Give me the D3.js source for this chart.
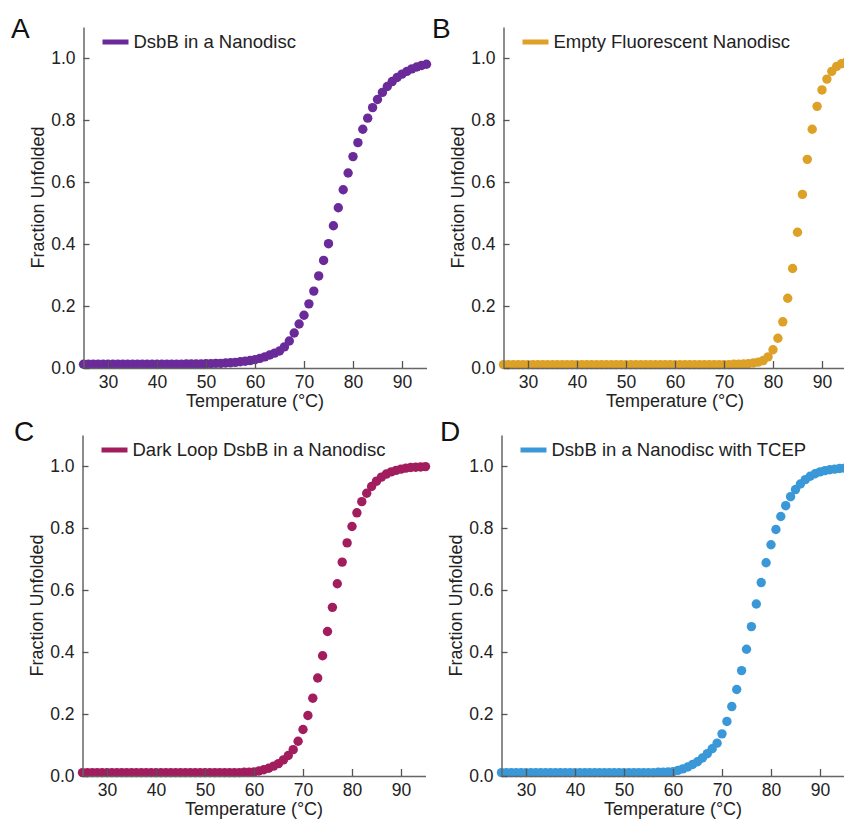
<!DOCTYPE html>
<html>
<head>
<meta charset="utf-8">
<script src="https://cdn.jsdelivr.net/npm/d3@7"></script>
<style>
  body { margin: 0; background: #fff; }
  text { font-family: "Liberation Sans", Arial, sans-serif; fill: #222; }
</style>
</head>
<body>
<div id="viz"></div>
<script>
// Temperatures (°C), one reading per degree
var temperaturas = [25,26,27,28,29,30,31,32,33,34,35,36,37,38,39,40,41,42,43,44,45,46,47,48,49,50,
  51,52,53,54,55,56,57,58,59,60,61,62,63,64,65,66,67,68,69,70,71,72,73,74,75,
  76,77,78,79,80,81,82,83,84,85,86,87,88,89,90,91,92,93,94,95];

// Fraction unfolded
var dsbNanodisc = [0.012,0.012,0.012,0.012,0.012,0.012,0.012,0.012,0.012,0.012,0.012,0.012,0.012,0.012,0.012,0.012,
  0.012,0.012,0.012,0.012,0.012,0.013,0.013,0.013,0.013,0.014,
  0.014,0.015,0.015,0.016,0.017,0.018,0.020,0.022,0.024,0.027,0.031,0.036,0.042,0.048,0.055,0.068,0.087,0.113,0.142,0.170,
  0.207,0.248,0.297,0.347,0.401,0.459,0.517,0.575,0.629,0.682,0.727,0.770,0.806,0.840,0.866,
  0.889,0.908,0.924,0.937,0.948,0.957,0.965,0.971,0.976,0.980];

var nanodiscVacio = [0.011,0.011,0.011,0.011,0.011,0.011,0.011,0.011,0.011,0.011,0.011,0.011,0.011,0.011,0.011,0.011,
  0.011,0.011,0.011,0.011,0.011,0.011,0.011,0.011,0.011,0.011,
  0.011,0.011,0.011,0.011,0.011,0.011,0.011,0.011,0.011,0.011,0.011,0.011,0.011,0.011,0.011,0.011,0.011,0.011,0.011,0.011,
  0.011,0.012,0.012,0.013,0.014,0.016,0.019,0.024,0.036,0.059,0.096,0.149,0.225,0.321,0.438,
  0.560,0.673,0.770,0.844,0.897,0.932,0.957,0.973,0.982,0.988];

var darkLoop = [0.011,0.011,0.011,0.011,0.011,0.011,0.011,0.011,0.011,0.011,0.011,0.011,0.011,0.011,0.011,0.011,
  0.011,0.011,0.011,0.011,0.011,0.011,0.011,0.011,0.011,0.011,
  0.011,0.011,0.011,0.011,0.011,0.011,0.011,0.012,0.012,0.013,0.016,0.020,0.025,0.032,0.040,0.052,0.066,0.085,0.112,0.150,
  0.195,0.251,0.316,0.388,0.466,0.544,0.620,0.690,0.752,0.805,0.849,0.885,0.912,0.934,0.951,
  0.964,0.974,0.981,0.986,0.990,0.993,0.995,0.996,0.997,0.998];

var dsbTcep = [0.011,0.011,0.011,0.011,0.011,0.011,0.011,0.011,0.011,0.011,0.011,0.011,0.011,0.011,0.011,0.011,
  0.011,0.011,0.011,0.011,0.011,0.011,0.011,0.011,0.011,0.011,
  0.011,0.011,0.011,0.011,0.011,0.011,0.012,0.012,0.013,0.014,0.018,0.023,0.029,0.037,0.046,0.058,0.072,0.088,0.106,0.136,
  0.176,0.224,0.279,0.340,0.409,0.482,0.555,0.624,0.688,0.746,0.795,0.837,0.872,0.901,0.924,
  0.942,0.956,0.967,0.975,0.981,0.985,0.988,0.990,0.992,0.993];

var series = [dsbNanodisc, nanodiscVacio, darkLoop, dsbTcep];
var letras = ['A', 'B', 'C', 'D'];
var leyendas = ['DsbB in a Nanodisc', 'Empty Fluorescent Nanodisc',
  'Dark Loop DsbB in a Nanodisc', 'DsbB in a Nanodisc with TCEP'];
var colores = ['#6a2a9a', '#dca126', '#a21d5e', '#3a98d8'];

var ticksX = [30, 40, 50, 60, 70, 80, 90];
var ticksY = [0, 0.2, 0.4, 0.6, 0.8, 1.0];
var tituloX = 'Temperature (°C)';
var tituloY = 'Fraction Unfolded';

/*
 * Layout
 */
var width = 844, height = 819;
var anchoPlot = 343, altoPlot = 341;
var origenes = [{x: 83.5, y: 27}, {x: 503.5, y: 27}, {x: 82.5, y: 435}, {x: 501.5, y: 435}];
var posLetras = [{x: 11, y: 38}, {x: 432, y: 38}, {x: 14, y: 441}, {x: 440, y: 441}];

var svg = d3.select('#viz')
  .append('svg')
  .attr('width', width)
  .attr('height', height);

var x = d3.scaleLinear().domain([25, 95]).range([0, anchoPlot]);
var y = d3.scaleLinear().domain([0, 1.1]).range([altoPlot, 0]);

function dibujarPanel(i) {
  var o = origenes[i];
  var g = svg.append('g').attr('transform', 'translate(' + o.x + ',' + o.y + ')');
  var datos = temperaturas.map(function (t, k) { return {t: t, v: series[i][k]}; });

  // Dots first, axes drawn over them
  g.append('g').selectAll('circle')
    .data(datos)
    .join('circle')
    .attr('cx', function (d) { return x(d.t); })
    .attr('cy', function (d) { return y(d.v); })
    .attr('r', 4.7)
    .style('fill', colores[i]);

  var ejeX = g.append('g')
    .attr('transform', 'translate(0,' + altoPlot + ')')
    .call(d3.axisBottom(x).tickValues(ticksX).tickSizeInner(-7).tickSizeOuter(0).tickPadding(8));
  var ejeY = g.append('g')
    .call(d3.axisLeft(y).tickValues(ticksY).tickFormat(d3.format('.1f'))
      .tickSizeInner(-6).tickSizeOuter(0).tickPadding(8));

  [ejeX, ejeY].forEach(function (eje) {
    eje.select('.domain').attr('stroke', '#666').attr('stroke-width', 1.5);
    eje.selectAll('.tick line').attr('stroke', '#555').attr('stroke-width', 1.3);
    eje.selectAll('.tick text')
      .style('font-family', '"Liberation Sans", Arial, sans-serif')
      .style('font-size', '17.5px')
      .style('fill', '#222');
  });

  // Axis titles
  g.append('text')
    .attr('x', anchoPlot / 2)
    .attr('y', altoPlot + 39)
    .attr('text-anchor', 'middle')
    .style('font-size', '18px')
    .text(tituloX);

  g.append('text')
    .attr('transform', 'translate(-40,' + y(0.55) + ') rotate(-90)')
    .attr('text-anchor', 'middle')
    .style('font-size', '18px')
    .text(tituloY);

  // Legend
  g.append('line')
    .attr('x1', 19).attr('x2', 45)
    .attr('y1', 15).attr('y2', 15)
    .attr('stroke', colores[i])
    .attr('stroke-width', 5);
  g.append('text')
    .attr('x', 50)
    .attr('y', 15)
    .attr('dy', '0.35em')
    .style('font-size', '18.5px')
    .text(leyendas[i]);

  // Panel letter
  svg.append('text')
    .attr('x', posLetras[i].x)
    .attr('y', posLetras[i].y)
    .style('font-size', '28px')
    .style('fill', '#111')
    .text(letras[i]);
}

for (var i = 0; i < series.length; i++) {
  dibujarPanel(i);
}
</script>
</body>
</html>
